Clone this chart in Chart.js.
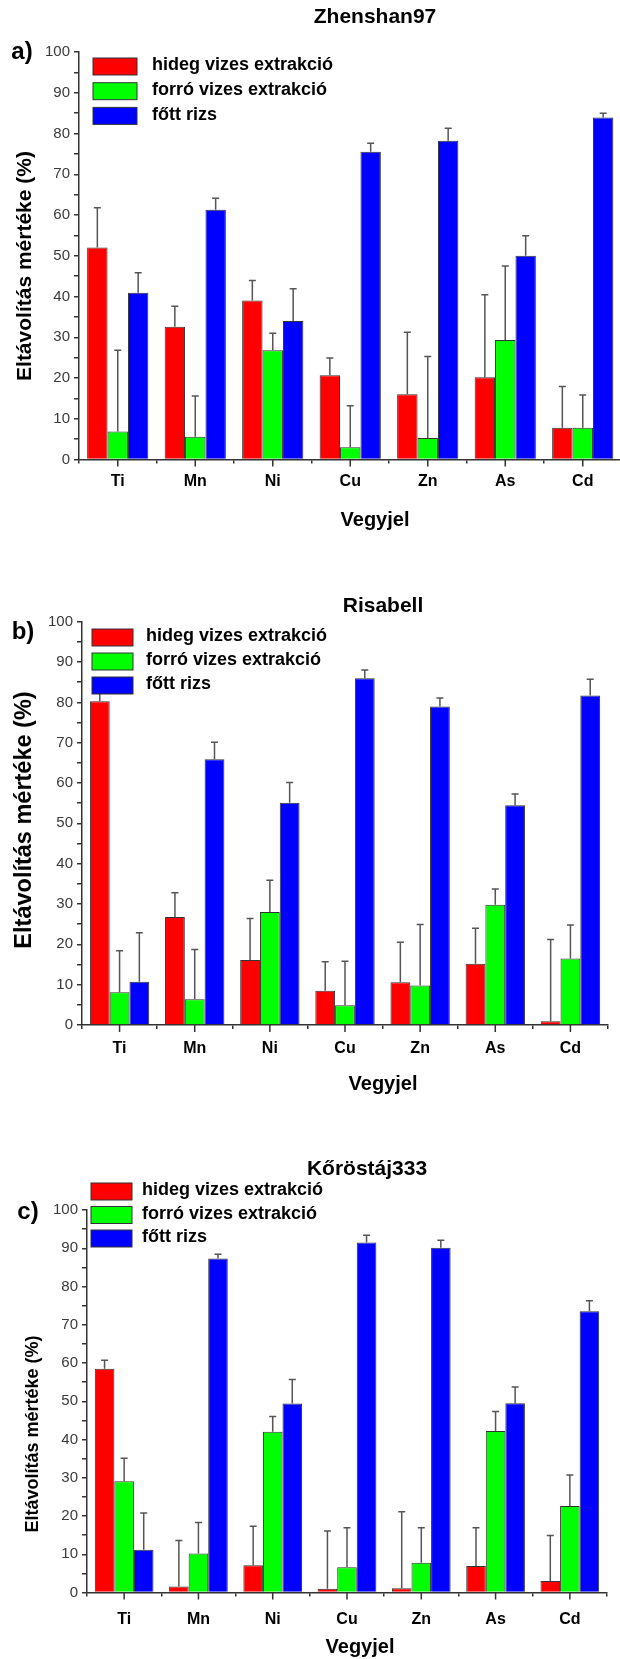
<!DOCTYPE html>
<html>
<head>
<meta charset="utf-8">
<style>
  body { margin: 0; background: #fff; width: 620px; height: 1659px; overflow: hidden; position: relative; }
  canvas { position: absolute; left: 0; }
</style>
<script src="https://cdn.jsdelivr.net/npm/chart.js"></script>
</head>
<body>
<canvas id="chartA" width="625" height="540" style="top:0px"></canvas>
<canvas id="chartB" width="620" height="560" style="top:540px"></canvas>
<canvas id="chartC" width="620" height="559" style="top:1100px"></canvas>
<script>
// categories and series
const elements = ['Ti', 'Mn', 'Ni', 'Cu', 'Zn', 'As', 'Cd'];
const seriesNames = ['hideg vizes extrakció', 'forró vizes extrakció', 'főtt rizs'];
const seriesColors = ['#ff0000', '#00ff00', '#0000ff'];
const yMin = 0, yMax = 100, yStep = 5;

// a) Zhenshan97 - mean values and upper error (SD)
const zhHideg = [52.0, 32.6, 39.0, 20.7, 16.0, 20.2, 7.8];
const zhHidegErr = [9.8, 5.0, 4.9, 4.2, 15.2, 20.2, 10.1];
const zhForro = [6.9, 5.6, 26.8, 3.0, 5.3, 29.3, 7.8];
const zhForroErr = [19.9, 10.0, 4.2, 10.2, 20.0, 18.2, 8.0];
const zhFott = [40.9, 61.3, 34.0, 75.5, 78.2, 50.0, 83.9];
const zhFottErr = [4.9, 2.8, 7.9, 2.1, 3.1, 4.9, 1.1];

// b) Risabell
const riHideg = [80.3, 26.8, 16.1, 8.5, 10.6, 15.2, 0.9];
const riHidegErr = [2.0, 6.0, 10.3, 7.2, 9.9, 8.8, 20.3];
const riForro = [8.1, 6.4, 28.0, 4.9, 9.8, 29.8, 16.5];
const riForroErr = [10.3, 12.3, 7.9, 10.9, 15.1, 3.9, 8.3];
const riFott = [10.7, 65.9, 55.1, 86.0, 79.0, 54.5, 81.7];
const riFottErr = [12.2, 4.2, 5.0, 2.0, 2.1, 2.8, 4.0];

// c) Kőröstáj333
const koHideg = [58.5, 1.6, 7.1, 1.0, 1.1, 6.9, 3.0];
const koHidegErr = [2.2, 12.0, 10.2, 15.1, 20.0, 10.0, 11.9];
const koForro = [29.1, 10.2, 42.0, 6.6, 7.8, 42.2, 22.6];
const koForroErr = [6.0, 8.1, 4.0, 10.3, 9.1, 5.1, 8.1];
const koFott = [11.2, 87.3, 49.4, 91.5, 90.1, 49.5, 73.5];
const koFottErr = [9.6, 1.1, 6.3, 1.9, 2.0, 4.2, 2.8];

const FONT = '"Liberation Sans", Arial, sans-serif';

// upper error whiskers with a cap
const errorBars = {
  id: 'errorBars',
  afterDatasetsDraw(chart) {
    const ctx = chart.ctx;
    const ys = chart.scales.y;
    ctx.save();
    ctx.strokeStyle = '#555';
    ctx.lineWidth = 1.5;
    chart.data.datasets.forEach((ds, i) => {
      chart.getDatasetMeta(i).data.forEach((bar, j) => {
        const top = ys.getPixelForValue(ds.data[j] + ds.errors[j]);
        ctx.beginPath();
        ctx.moveTo(bar.x, bar.y);
        ctx.lineTo(bar.x, top);
        ctx.moveTo(bar.x - 3.5, top);
        ctx.lineTo(bar.x + 3.5, top);
        ctx.stroke();
      });
    });
    ctx.restore();
  }
};

// titles, panel letter, axis titles, legend, center ticks on x axis
const decor = {
  id: 'decor',
  afterDraw(chart, args, o) {
    const ctx = chart.ctx;
    const xs = chart.scales.x;
    ctx.save();
    // center ticks
    ctx.strokeStyle = '#333';
    ctx.lineWidth = 1.5;
    elements.forEach((e, i) => {
      const px = xs.getPixelForTick(i);
      ctx.beginPath();
      ctx.moveTo(px, xs.top);
      ctx.lineTo(px, xs.top + 7);
      ctx.stroke();
    });

    ctx.fillStyle = '#000';
    ctx.textAlign = 'center';
    ctx.textBaseline = 'middle';
    ctx.font = 'bold 21px ' + FONT;
    ctx.fillText(o.title, o.titleX, o.titleY);
    ctx.font = 'bold 24px ' + FONT;
    ctx.fillText(o.letter, o.letterX, o.letterY);
    ctx.font = 'bold 20px ' + FONT;
    ctx.fillText('Vegyjel', o.xTitleX, o.xTitleY);

    ctx.save();
    ctx.translate(o.yTitleX, o.yTitleY);
    ctx.rotate(-Math.PI / 2);
    ctx.font = 'bold ' + o.yTitleSize + 'px ' + FONT;
    ctx.fillText('Eltávolítás mértéke (%)', 0, 0);
    ctx.restore();

    // legend
    ctx.textAlign = 'left';
    ctx.font = 'bold 18px ' + FONT;
    chart.data.datasets.forEach((ds, i) => {
      const cy = o.legendY + i * o.legendGap;
      ctx.fillStyle = ds.backgroundColor;
      ctx.fillRect(o.legendX, cy - 8.5, o.boxW, 17);
      ctx.strokeStyle = '#333';
      ctx.lineWidth = 1;
      ctx.strokeRect(o.legendX, cy - 8.5, o.boxW, 17);
      ctx.fillStyle = '#000';
      ctx.fillText(ds.label, o.textX, cy - 1);
    });
    ctx.restore();
  }
};

function makeChart(id, series, errs, geo, deco) {
  const canvas = document.getElementById(id);
  const H = canvas.height;
  return new Chart(canvas, {
    type: 'bar',
    data: {
      labels: elements,
      datasets: series.map((s, i) => ({
        label: seriesNames[i],
        data: s,
        errors: errs[i],
        backgroundColor: seriesColors[i],
        borderColor: '#333',
        borderWidth: 1,
        borderSkipped: 'bottom'
      }))
    },
    options: {
      responsive: false,
      animation: false,
      layout: { padding: { top: geo.top, right: geo.right, left: 0, bottom: 0 } },
      datasets: { bar: { barPercentage: 1.0, categoryPercentage: 0.79 } },
      plugins: {
        legend: { display: false },
        tooltip: { enabled: false },
        decor: deco
      },
      scales: {
        x: {
          afterFit: (s) => { s.height = H - geo.bottom; },
          grid: { display: true, offset: true, drawOnChartArea: false, color: '#333', tickLength: 4, lineWidth: 1.5 },
          border: { display: true, color: '#333', width: 1.5 },
          ticks: { color: '#000', padding: geo.xPad, font: { family: FONT, size: 16, weight: 'bold' } }
        },
        y: {
          min: yMin,
          max: yMax,
          afterFit: (s) => { s.width = geo.left; },
          grid: { display: true, drawOnChartArea: false, color: '#333', tickLength: 5, lineWidth: 1.5 },
          border: { display: true, color: '#333', width: 1.5 },
          ticks: {
            stepSize: yStep,
            autoSkip: false,
            padding: 4,
            color: '#3a3a3a',
            font: { family: FONT, size: 15 },
            callback: (v) => (v % 10 === 0 ? v : '')
          }
        }
      }
    },
    plugins: [errorBars, decor]
  });
}

makeChart('chartA',
  [zhHideg, zhForro, zhFott], [zhHidegErr, zhForroErr, zhFottErr],
  { top: 52, right: 3.5, bottom: 459.5, left: 79, xPad: 8 },
  { title: 'Zhenshan97', titleX: 375, titleY: 17, letter: 'a)', letterX: 22, letterY: 52,
    xTitleX: 375, xTitleY: 520, yTitleX: 25, yTitleY: 266, yTitleSize: 21,
    legendX: 93, legendY: 66.5, legendGap: 24.7, boxW: 44, textX: 152 });

makeChart('chartB',
  [riHideg, riForro, riFott], [riHidegErr, riForroErr, riFottErr],
  { top: 81.7, right: 12, bottom: 485, left: 82, xPad: 10 },
  { title: 'Risabell', titleX: 383, titleY: 66, letter: 'b)', letterX: 23, letterY: 92,
    xTitleX: 383, xTitleY: 544, yTitleX: 25, yTitleY: 280, yTitleSize: 23.5,
    legendX: 92, legendY: 97.5, legendGap: 24, boxW: 41, textX: 146 });

makeChart('chartC',
  [koHideg, koForro, koFott], [koHidegErr, koForroErr, koFottErr],
  { top: 110, right: 13, bottom: 492.5, left: 87, xPad: 13 },
  { title: 'Kőröstáj333', titleX: 367, titleY: 69, letter: 'c)', letterX: 28, letterY: 112,
    xTitleX: 360, xTitleY: 547, yTitleX: 33, yTitleY: 334, yTitleSize: 18,
    legendX: 91, legendY: 91.5, legendGap: 23.5, boxW: 41, textX: 142 });
</script>
</body>
</html>
